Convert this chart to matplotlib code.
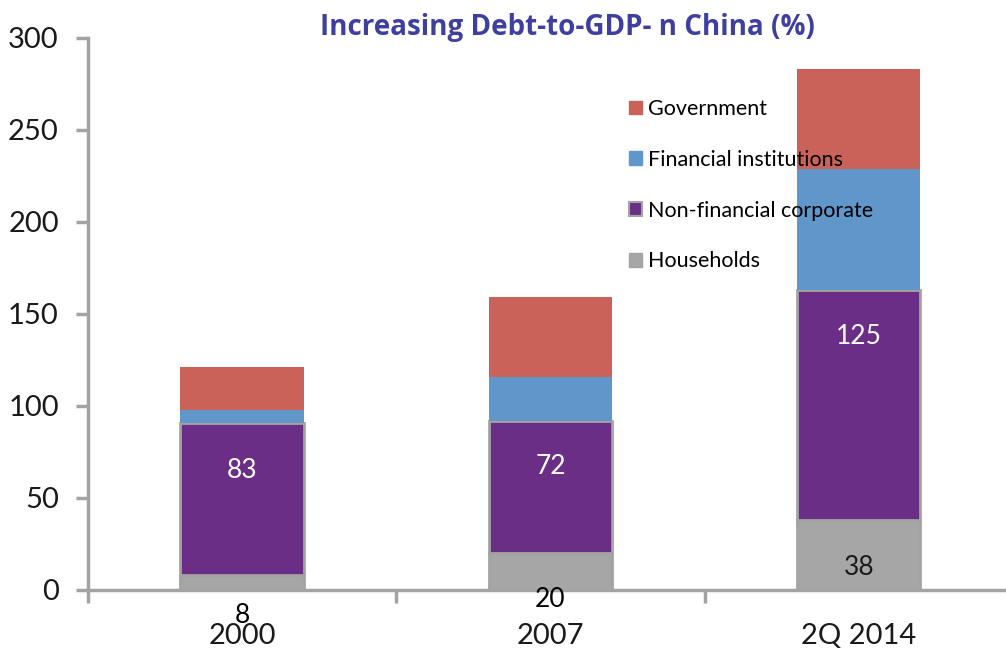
import matplotlib
matplotlib.use("Agg")
import matplotlib.pyplot as plt
import numpy as np
from matplotlib.patches import Patch
from matplotlib.ticker import FixedLocator, NullFormatter

categories = ["2000", "2007", "2Q 2014"]
households = [8, 20, 38]
non_financial = [83, 72, 125]
financial = [7, 24, 66]
government = [23, 43, 54]
yticks = [0, 50, 100, 150, 200, 250, 300]

c_gov = "#CB625A"
c_fin = "#6096CA"
c_nonfin = "#6B2E87"
c_house = "#A6A6A6"
edge_grey = "#A3A3A3"

plt.rcParams['font.family'] = ['Lato', 'DejaVu Sans']

fig = plt.figure(figsize=(10.06, 6.53), dpi=100)
ax = fig.add_axes([88/1006, 1-590/653, (1013-88)/1006, (590-38)/653])

x = np.arange(len(categories))
w = 0.40
h = np.array(households)
n = np.array(non_financial)
f = np.array(financial)
g = np.array(government)

ax.bar(x, h, w, color=c_house, edgecolor=edge_grey, linewidth=2, label="Households")
ax.bar(x, n, w, bottom=h, color=c_nonfin, edgecolor=edge_grey, linewidth=2, label="Non-financial corporate")
ax.bar(x, f, w, bottom=h+n, color=c_fin, edgecolor="none", label="Financial institutions")
ax.bar(x, g, w, bottom=h+n+f, color=c_gov, edgecolor="none", label="Government")

ax.set_xlim(-0.5, 2.5)
ax.set_ylim(0, 300)
ax.set_yticks(yticks)
ax.set_yticklabels([str(t) for t in yticks])
ax.xaxis.set_major_locator(FixedLocator([-0.5, 0.5, 1.5, 2.5]))
ax.xaxis.set_major_formatter(NullFormatter())
ax.xaxis.set_minor_locator(FixedLocator(list(x)))
ax.set_xticklabels(categories, minor=True)
ax.tick_params(axis='x', which='minor', length=0, pad=24, labelsize=21, labelcolor="#1a1a1a")
ax.tick_params(axis='x', which='major', length=9, width=2.5, color=edge_grey, direction='out')
ax.tick_params(axis='y', length=9, width=2.5, color=edge_grey, direction='out', labelsize=21,
               labelcolor="#1a1a1a", pad=12)

for s in ["top", "right"]:
    ax.spines[s].set_visible(False)
for s in ["left", "bottom"]:
    ax.spines[s].set_color(edge_grey)
    ax.spines[s].set_linewidth(2.5)

# data labels (positions as in reference)
lab_y = [(-14, 65, "#000000", "#ffffff"), (-5, 67, "#000000", "#ffffff"), (12, 138, "#1a1a1a", "#ffffff")]
for i in range(len(categories)):
    yh, yn, ch, cn = lab_y[i]
    ax.text(x[i], yh, str(households[i]), ha='center', va='center', fontsize=19, color=ch, clip_on=False)
    ax.text(x[i], yn, str(non_financial[i]), ha='center', va='center', fontsize=19, color=cn)

handles = [Patch(color=c_gov, label="Government"),
           Patch(color=c_fin, label="Financial institutions"),
           Patch(facecolor=c_nonfin, edgecolor=edge_grey, linewidth=1.5, label="Non-financial corporate"),
           Patch(facecolor=c_house, edgecolor=edge_grey, label="Households")]
leg = ax.legend(handles=handles, loc='upper left', bbox_to_anchor=(629/1006, 1-99/653),
                bbox_transform=fig.transFigure, frameon=False, fontsize=15.5, handlelength=0.6,
                handleheight=0.6, handletextpad=0.3, labelspacing=1.43, borderaxespad=0,
                borderpad=0)

fig.text(567/1006, 1-28/653, "Increasing Debt-to-GDP- n China (%)", ha='center', va='center',
         fontsize=20, fontweight='bold', color="#3F3FA0", family=['Open Sans', 'DejaVu Sans'])

fig.savefig("out.png", dpi=100)
